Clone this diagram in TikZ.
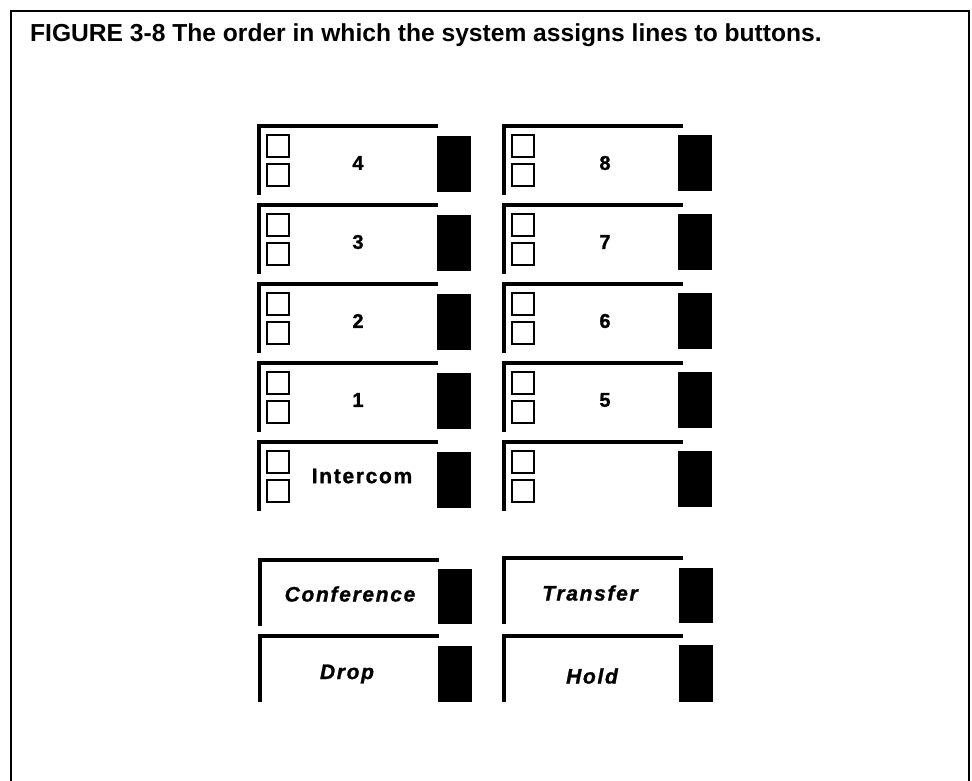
\documentclass[tikz,border=0pt]{standalone}
\usepackage{fontspec}
\setmainfont{Liberation Sans}
\usepackage{tikz}
\usetikzlibrary{positioning}

\begin{document}
\begin{tikzpicture}[
        x=1pt, y=-1pt,
        key/.style={rectangle, minimum width=177pt, minimum height=67pt, inner sep=0pt},
        fkey/.style={rectangle, minimum width=177pt, minimum height=64pt, inner sep=0pt},
        edge/.style={line width=3.6pt, line cap=rect},
        sq/.style={rectangle, draw, line width=2.5pt, minimum size=22pt, inner sep=0pt},
        lamp/.style={rectangle, fill=black, minimum width=34pt, minimum height=56pt, inner sep=0pt},
        num/.style={font=\fontsize{20}{22}\selectfont\bfseries\addfontfeature{FakeBold=1.2}},
        line/.style={font=\fontsize{21}{24}\selectfont\bfseries\addfontfeature{LetterSpace=8,FakeBold=1.2}},
        func/.style={font=\fontsize{21}{24}\selectfont\bfseries\itshape\addfontfeature{LetterSpace=8,FakeBold=1.2}},
        caption/.style={font=\fontsize{24.6}{29}\selectfont\bfseries, inner sep=0pt, anchor=base west}
    ]
        \useasboundingbox (0,0) rectangle (972,781);
        \draw[line width=2.6pt] (11,781) |- (969,11) -- (969,781);
        \node[caption] (title) at (30,42) {FIGURE 3-8 The order in which the system assigns lines to buttons.};

        % left column
        \node[key] (k4) at (347.5,159.5) {};
        \draw[edge] (k4.south west) |- (k4.north east);
        \node[sq] (k4a) at (278,146) {}; \node[sq] (k4b) at (278,175) {};
        \node[lamp] (l4) at (454,164) {};
        \node[num] (n4) at (358,163) {4};

        \node[key] (k3) at (347.5,238.5) {};
        \draw[edge] (k3.south west) |- (k3.north east);
        \node[sq] (k3a) at (278,225) {}; \node[sq] (k3b) at (278,254) {};
        \node[lamp] (l3) at (454,243) {};
        \node[num] (n3) at (358,242) {3};

        \node[key] (k2) at (347.5,317.5) {};
        \draw[edge] (k2.south west) |- (k2.north east);
        \node[sq] (k2a) at (278,304) {}; \node[sq] (k2b) at (278,333) {};
        \node[lamp] (l2) at (454,322) {};
        \node[num] (n2) at (358,321) {2};

        \node[key] (k1) at (347.5,396.5) {};
        \draw[edge] (k1.south west) |- (k1.north east);
        \node[sq] (k1a) at (278,383) {}; \node[sq] (k1b) at (278,412) {};
        \node[lamp] (l1) at (454,401) {};
        \node[num] (n1) at (358,400) {1};

        \node[key] (kic) at (347.5,475.5) {};
        \draw[edge] (kic.south west) |- (kic.north east);
        \node[sq] (kica) at (278,462) {}; \node[sq] (kicb) at (278,491) {};
        \node[lamp] (lic) at (454,480) {};
        \node[line] (nic) at (362,476) {Intercom};

        % right column
        \node[key] (k8) at (592.5,159.5) {};
        \draw[edge] (k8.south west) |- (k8.north east);
        \node[sq] (k8a) at (523,146) {}; \node[sq] (k8b) at (523,175) {};
        \node[lamp] (l8) at (695,163) {};
        \node[num] (n8) at (605,163) {8};

        \node[key] (k7) at (592.5,238.5) {};
        \draw[edge] (k7.south west) |- (k7.north east);
        \node[sq] (k7a) at (523,225) {}; \node[sq] (k7b) at (523,254) {};
        \node[lamp] (l7) at (695,242) {};
        \node[num] (n7) at (605,242) {7};

        \node[key] (k6) at (592.5,317.5) {};
        \draw[edge] (k6.south west) |- (k6.north east);
        \node[sq] (k6a) at (523,304) {}; \node[sq] (k6b) at (523,333) {};
        \node[lamp] (l6) at (695,321) {};
        \node[num] (n6) at (605,321) {6};

        \node[key] (k5) at (592.5,396.5) {};
        \draw[edge] (k5.south west) |- (k5.north east);
        \node[sq] (k5a) at (523,383) {}; \node[sq] (k5b) at (523,412) {};
        \node[lamp] (l5) at (695,400) {};
        \node[num] (n5) at (605,400) {5};

        \node[key] (k0) at (592.5,475.5) {};
        \draw[edge] (k0.south west) |- (k0.north east);
        \node[sq] (k0a) at (523,462) {}; \node[sq] (k0b) at (523,491) {};
        \node[lamp] (l0) at (695,479) {};

        % feature buttons
        \node[fkey] (kconf) at (348.5,592) {};
        \draw[edge] (kconf.south west) |- (kconf.north east);
        \node[lamp, minimum height=55pt] (lconf) at (454.5,596.5) {};
        \node[func] (nconf) at (350,594) {Conference};

        \node[fkey] (kdrop) at (348.5,668) {};
        \draw[edge] (kdrop.south west) |- (kdrop.north east);
        \node[lamp] (ldrop) at (454.5,674) {};
        \node[func] (ndrop) at (347,674) {Drop};

        \node[fkey] (ktrans) at (592.5,590) {};
        \draw[edge] (ktrans.south west) |- (ktrans.north east);
        \node[lamp, minimum height=55pt] (ltrans) at (695.5,595.5) {};
        \node[func] (ntrans) at (590,593) {Transfer};

        \node[fkey] (khold) at (592.5,668) {};
        \draw[edge] (khold.south west) |- (khold.north east);
        \node[lamp, minimum height=57pt] (lhold) at (695.5,673.5) {};
        \node[func] (nhold) at (592,676) {Hold};
    \end{tikzpicture}
\end{document}
